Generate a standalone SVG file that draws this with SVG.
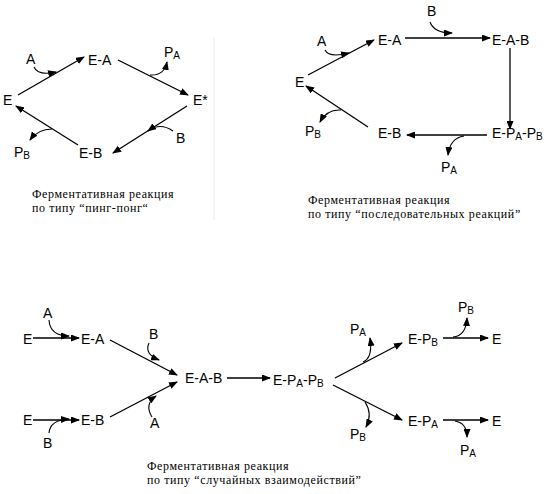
<svg xmlns="http://www.w3.org/2000/svg" width="550" height="494" viewBox="0 0 550 494">
<defs>
<marker id="ah" markerUnits="userSpaceOnUse" markerWidth="9" markerHeight="7" refX="8" refY="3.5" orient="auto">
<path d="M0,0 L9,3.5 L0,7 z" fill="#000"/>
</marker>
<style>
.lb{font-family:"Liberation Sans",Arial,sans-serif;font-size:14px;fill:#000}
.sb{font-size:10px}
.cap{font-family:"Liberation Serif","Times New Roman",serif;font-size:12px;letter-spacing:0.6px;fill:#000}
.ln{stroke:#000;stroke-width:1.3;fill:none;marker-end:url(#ah)}
.cv{stroke:#000;stroke-width:1.1;fill:none;marker-end:url(#ah)}
</style>
</defs>
<rect width="550" height="494" fill="#fff"/>
<line x1="214" y1="38" x2="214" y2="220" stroke="#ececec" stroke-width="1.2"/>

<!-- Diagram 1: ping-pong -->
<g id="d1-nodes">
<g id="d1-E"><text class="lb" x="3" y="105">E</text></g>
<g id="d1-EA"><text class="lb" x="88" y="65">E-A</text></g>
<g id="d1-Estar"><text class="lb" x="193" y="105">E*</text></g>
<g id="d1-EB"><text class="lb" x="79" y="158">E-B</text></g>
<g id="d1-A"><text class="lb" x="26" y="64">A</text></g>
<g id="d1-PA"><text class="lb" x="164" y="57">P<tspan class="sb" dy="2">A</tspan></text></g>
<g id="d1-B"><text class="lb" x="176" y="143">B</text></g>
<g id="d1-PB"><text class="lb" x="14" y="157">P<tspan class="sb" dy="2">B</tspan></text></g>
</g>
<g id="d1-connectors">
<line class="ln" x1="18" y1="95" x2="84" y2="57"/>
<path class="cv" d="M34,67 Q38,76 56,72"/>
<line class="ln" x1="118" y1="60" x2="188" y2="95"/>
<path class="cv" d="M150,75 Q164,76 167,62"/>
<line class="ln" x1="187" y1="106" x2="113" y2="153"/>
<path class="cv" d="M173,131 Q160,122 148,131"/>
<line class="ln" x1="78" y1="145" x2="16" y2="106"/>
<path class="cv" d="M52,129 Q38,129 30,140"/>
</g>
<g id="d1-caption">
<text class="cap" x="32" y="198">Ферментативная реакция</text>
<text class="cap" x="32" y="212">по типу  “пинг-понг“</text>
</g>

<!-- Diagram 2: sequential -->
<g id="d2-nodes">
<g id="d2-E"><text class="lb" x="295" y="87">E</text></g>
<g id="d2-EA"><text class="lb" x="378" y="45">E-A</text></g>
<g id="d2-EAB"><text class="lb" x="492" y="45">E-A-B</text></g>
<g id="d2-EPAPB"><text class="lb" x="492" y="138">E-P<tspan class="sb" dy="2">A</tspan><tspan dy="-2">-P</tspan><tspan class="sb" dy="2">B</tspan></text></g>
<g id="d2-EB"><text class="lb" x="378" y="138">E-B</text></g>
<g id="d2-A"><text class="lb" x="317" y="46">A</text></g>
<g id="d2-B"><text class="lb" x="427" y="16">B</text></g>
<g id="d2-PA"><text class="lb" x="441" y="172">P<tspan class="sb" dy="2">A</tspan></text></g>
<g id="d2-PB"><text class="lb" x="305" y="136">P<tspan class="sb" dy="2">B</tspan></text></g>
</g>
<g id="d2-connectors">
<line class="ln" x1="308" y1="75" x2="374" y2="40"/>
<path class="cv" d="M325,50 Q329,58 349,53"/>
<line class="ln" x1="405" y1="38" x2="490" y2="38"/>
<path class="cv" d="M430,22 Q434,33 452,33"/>
<line class="ln" x1="510" y1="48" x2="510" y2="129"/>
<line class="ln" x1="487" y1="135" x2="407" y2="135"/>
<path class="cv" d="M464,136 Q450,138 448,155"/>
<line class="ln" x1="368" y1="127" x2="306" y2="86"/>
<path class="cv" d="M341,110 Q327,109 320,122"/>
</g>
<g id="d2-caption">
<text class="cap" x="308" y="204">Ферментативная реакция</text>
<text class="cap" x="308" y="218">по типу “последовательных реакций”</text>
</g>

<!-- Diagram 3: random -->
<g id="d3-nodes">
<g id="d3-E1"><text class="lb" x="23" y="344">E</text></g>
<g id="d3-EA"><text class="lb" x="81" y="344">E-A</text></g>
<g id="d3-A1"><text class="lb" x="43" y="318">A</text></g>
<g id="d3-B1"><text class="lb" x="149" y="339">B</text></g>
<g id="d3-E2"><text class="lb" x="23" y="425">E</text></g>
<g id="d3-EB"><text class="lb" x="81" y="425">E-B</text></g>
<g id="d3-B2"><text class="lb" x="43" y="448">B</text></g>
<g id="d3-A2"><text class="lb" x="150" y="428">A</text></g>
<g id="d3-EAB"><text class="lb" x="185" y="383">E-A-B</text></g>
<g id="d3-EPAPB"><text class="lb" x="273" y="385">E-P<tspan class="sb" dy="2">A</tspan><tspan dy="-2">-P</tspan><tspan class="sb" dy="2">B</tspan></text></g>
<g id="d3-PA1"><text class="lb" x="350" y="334">P<tspan class="sb" dy="2">A</tspan></text></g>
<g id="d3-EPB"><text class="lb" x="408" y="344">E-P<tspan class="sb" dy="2">B</tspan></text></g>
<g id="d3-PB1"><text class="lb" x="458" y="312">P<tspan class="sb" dy="2">B</tspan></text></g>
<g id="d3-E3"><text class="lb" x="492" y="344">E</text></g>
<g id="d3-PB2"><text class="lb" x="350" y="439">P<tspan class="sb" dy="2">B</tspan></text></g>
<g id="d3-EPA"><text class="lb" x="408" y="426">E-P<tspan class="sb" dy="2">A</tspan></text></g>
<g id="d3-E4"><text class="lb" x="492" y="426">E</text></g>
<g id="d3-PA2"><text class="lb" x="460" y="455">P<tspan class="sb" dy="2">A</tspan></text></g>
</g>
<g id="d3-connectors">
<line class="ln" x1="33" y1="338" x2="79" y2="338"/>
<path class="cv" d="M49,320 Q50,336 69,336"/>
<line class="ln" x1="33" y1="420" x2="79" y2="420"/>
<path class="cv" d="M49,433 Q50,420 69,419"/>
<line class="ln" x1="110" y1="340" x2="177" y2="375"/>
<path class="cv" d="M149,343 Q144,354 159,360"/>
<line class="ln" x1="110" y1="417" x2="177" y2="382"/>
<path class="cv" d="M152,417 Q144,404 156,396"/>
<line class="ln" x1="227" y1="378" x2="270" y2="378"/>
<line class="ln" x1="335" y1="378" x2="402" y2="343"/>
<path class="cv" d="M363,362 Q373,358 370,338"/>
<line class="ln" x1="333" y1="385" x2="402" y2="420"/>
<path class="cv" d="M365,402 Q373,414 366,427"/>
<line class="ln" x1="443" y1="338" x2="488" y2="338"/>
<path class="cv" d="M453,337 Q466,336 467,318"/>
<line class="ln" x1="443" y1="420" x2="488" y2="420"/>
<path class="cv" d="M455,421 Q467,423 467,437"/>
</g>
<g id="d3-caption">
<text class="cap" x="147" y="470">Ферментативная реакция</text>
<text class="cap" x="147" y="484">по типу “случайных взаимодействий”</text>
</g>
</svg>
